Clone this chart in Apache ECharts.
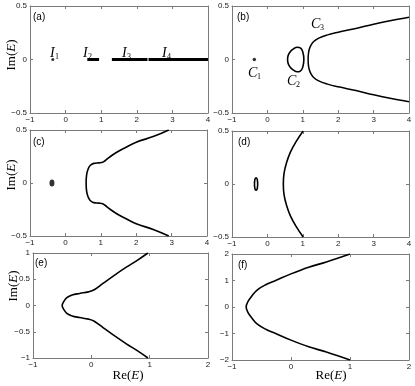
<!DOCTYPE html>
<html>
<head>
<meta charset="utf-8">
<script src="https://cdn.jsdelivr.net/npm/echarts@6/dist/echarts.min.js"></script>
<style>
  html, body { margin: 0; padding: 0; background: #fff; }
  #chart { width: 415px; height: 386px; }
</style>
</head>
<body>
<div id="chart"></div>
<script>
// (a) isolated spectrum on the real axis
const I1 = [[-0.36, 0]];
const I2 = [[0.61, 0], [0.94, 0]];
const I3 = [[1.30, 0], [2.30, 0]];
const I4 = [[2.33, 0], [4.0, 0]];

// (b) loops C1, C2, C3
const C1 = [[-0.37, 0]];
const C2 = [[1.03, 0], [1.0, 0.07], [0.93, 0.108], [0.84, 0.115], [0.74, 0.1], [0.64, 0.07], [0.58, 0.03], [0.57, 0],
  [0.58, -0.03], [0.64, -0.07], [0.74, -0.1], [0.84, -0.115], [0.93, -0.108], [1.0, -0.07], [1.03, 0]];
const C3 = [[4.0, -0.395], [3.5, -0.365], [3.0, -0.33], [2.5, -0.29], [2.0, -0.255], [1.7, -0.23], [1.45, -0.2],
  [1.3, -0.165], [1.21, -0.12], [1.165, -0.07], [1.15, 0], [1.165, 0.07], [1.21, 0.12], [1.3, 0.165], [1.45, 0.2],
  [1.7, 0.23], [2.0, 0.255], [2.5, 0.29], [3.0, 0.33], [3.5, 0.365], [4.0, 0.395]];

// (c)
const dotC = [[-0.38, 0]];
const curveC = [[2.92, -0.5], [2.5, -0.44], [2.0, -0.385], [1.7, -0.335], [1.45, -0.29], [1.25, -0.245], [1.12, -0.21],
  [1.05, -0.195], [0.95, -0.19], [0.8, -0.185], [0.7, -0.165], [0.64, -0.13], [0.6, -0.08], [0.585, 0],
  [0.6, 0.08], [0.64, 0.13], [0.7, 0.165], [0.8, 0.185], [0.95, 0.19], [1.05, 0.195], [1.12, 0.21], [1.25, 0.245],
  [1.45, 0.29], [1.7, 0.335], [2.0, 0.385], [2.5, 0.44], [2.92, 0.5]];

// (d)
const loopD = [[-0.275, 0], [-0.285, 0.04], [-0.32, 0.058], [-0.355, 0.04], [-0.365, 0], [-0.355, -0.04],
  [-0.32, -0.058], [-0.285, -0.04], [-0.275, 0]];
const curveD = [[1.01, -0.5], [0.81, -0.4], [0.65, -0.3], [0.54, -0.2], [0.47, -0.1], [0.45, 0],
  [0.47, 0.1], [0.54, 0.2], [0.65, 0.3], [0.81, 0.4], [1.01, 0.5]];

// (e)
const curveE = [[0.97, -1.0], [0.8, -0.87], [0.6, -0.73], [0.4, -0.58], [0.2, -0.42], [0.05, -0.3], [-0.05, -0.26],
  [-0.2, -0.23], [-0.33, -0.2], [-0.42, -0.15], [-0.47, -0.08], [-0.5, 0], [-0.47, 0.08], [-0.42, 0.15],
  [-0.33, 0.2], [-0.2, 0.23], [-0.05, 0.26], [0.05, 0.3], [0.2, 0.42], [0.4, 0.58], [0.6, 0.73], [0.8, 0.87], [0.97, 1.0]];

// (f)
const curveF = [[1.0, -2.0], [0.6, -1.7], [0.3, -1.5], [0.0, -1.25], [-0.26, -1.0], [-0.42, -0.85], [-0.57, -0.65],
  [-0.67, -0.4], [-0.73, -0.2], [-0.76, 0], [-0.73, 0.2], [-0.67, 0.4], [-0.57, 0.65], [-0.42, 0.85],
  [-0.26, 1.0], [0.0, 1.25], [0.3, 1.5], [0.6, 1.7], [1.0, 2.0]];

// axis ranges per panel: [xmin, xmax, xstep, ymin, ymax, ystep]
const ranges = [
  [-1, 4, 1, -0.5, 0.5, 0.5],
  [-1, 4, 1, -0.5, 0.5, 0.5],
  [-1, 4, 1, -0.5, 0.5, 0.5],
  [-1, 4, 1, -0.5, 0.5, 0.5],
  [-1, 2, 1, -1, 1, 0.5],
  [-1, 2, 1, -2, 2, 1]
];
const panelNames = ['(a)', '(b)', '(c)', '(d)', '(e)', '(f)'];

const myChart = echarts.init(document.getElementById('chart'));

const grids = [
  { left: 30, top: 6, width: 178, height: 107 },
  { left: 232, top: 6, width: 177, height: 107 },
  { left: 30, top: 130, width: 177, height: 106 },
  { left: 232, top: 131, width: 177, height: 106 },
  { left: 33, top: 253, width: 175, height: 105 },
  { left: 232, top: 254, width: 177, height: 106 }
];

const frame = '#7a7a7a';
const minus = v => String(v).replace('-', '\u2212');

const xAxes = [], yAxes = [];
ranges.forEach((r, i) => {
  ['bottom', 'top'].forEach(pos => {
    xAxes.push({
      gridIndex: i, type: 'value', position: pos, min: r[0], max: r[1], interval: r[2],
      axisLine: { onZero: false, lineStyle: { color: frame, width: 1 } },
      axisTick: { inside: true, length: 3, lineStyle: { color: frame } },
      axisLabel: pos === 'bottom'
        ? { show: true, fontSize: 8, color: '#222', fontFamily: 'Liberation Sans', margin: 3, formatter: minus }
        : { show: false },
      splitLine: { show: false }
    });
  });
  ['left', 'right'].forEach(pos => {
    yAxes.push({
      gridIndex: i, type: 'value', position: pos, min: r[3], max: r[4], interval: r[5],
      axisLine: { onZero: false, lineStyle: { color: frame, width: 1 } },
      axisTick: { inside: true, length: 3, lineStyle: { color: frame } },
      axisLabel: pos === 'left'
        ? { show: true, fontSize: 8, color: '#222', fontFamily: 'Liberation Sans', margin: 3, formatter: minus }
        : { show: false },
      splitLine: { show: false }
    });
  });
});

function line(gi, data, width, smooth) {
  return {
    type: 'line', xAxisIndex: gi * 2, yAxisIndex: gi * 2, data: data,
    showSymbol: false, smooth: smooth, silent: true,
    lineStyle: { color: '#000', width: width }
  };
}
function dot(gi, data, size) {
  return {
    type: 'scatter', xAxisIndex: gi * 2, yAxisIndex: gi * 2, data: data,
    symbol: 'circle', symbolSize: size, silent: true,
    itemStyle: { color: '#000' }
  };
}

const series = [
  dot(0, I1, 3),
  line(0, I2, 3, false),
  line(0, I3, 3, false),
  line(0, I4, 3, false),
  dot(1, C1, 3.5),
  line(1, C2, 1.6, 0.5),
  line(1, C3, 1.5, 0.4),
  dot(2, dotC, [5, 7]),
  line(2, curveC, 1.6, 0.4),
  line(3, loopD, 1.6, 0.5),
  line(3, curveD, 1.6, 0.4),
  line(4, curveE, 1.6, 0.4),
  line(5, curveF, 1.6, 0.4)
];

const serif = 'Liberation Serif';
const richName = {
  n: { fontFamily: serif, fontSize: 13, color: '#000' },
  i: { fontFamily: serif, fontSize: 13, fontStyle: 'italic', color: '#000' }
};

const graphic = [];
// panel letters
const letterPos = [[33, 12], [237, 12], [33, 137], [238, 137], [35, 258], [238, 260]];
panelNames.forEach((t, i) => {
  graphic.push({
    type: 'text', left: letterPos[i][0], top: letterPos[i][1],
    style: { text: t, font: '10px "Liberation Sans"', fill: '#000' }
  });
});
// axis titles
[[12, 55], [12, 175], [14, 286]].forEach(p => {
  graphic.push({
    type: 'text', x: p[0], y: p[1], rotation: Math.PI / 2,
    style: { text: '{n|Im(}{i|E}{n|)}', rich: richName, align: 'center', verticalAlign: 'middle' }
  });
});
[[128, 376], [331, 376]].forEach(p => {
  graphic.push({
    type: 'text', x: p[0], y: p[1],
    style: { text: '{n|Re(}{i|E}{n|)}', rich: richName, align: 'center', verticalAlign: 'middle' }
  });
});
// curve labels with subscripts: [main, sub, x, y, subOffset]
const tags = [
  ['I', '1', 50, 46, 5], ['I', '2', 83, 46, 5], ['I', '3', 122, 46, 5], ['I', '4', 162, 46, 5],
  ['C', '1', 248, 66, 9], ['C', '2', 287, 74, 9], ['C', '3', 311, 17, 9]
];
tags.forEach(t => {
  graphic.push({
    type: 'text', x: t[2], y: t[3],
    style: { text: t[0], font: 'italic 14px "Liberation Serif"', fill: '#000' }
  });
  graphic.push({
    type: 'text', x: t[2] + t[4], y: t[3] + 7,
    style: { text: t[1], font: '8px "Liberation Serif"', fill: '#000' }
  });
});

const option = {
  animation: false,
  backgroundColor: '#fff',
  grid: grids,
  xAxis: xAxes,
  yAxis: yAxes,
  series: series,
  graphic: graphic
};
myChart.setOption(option);
</script>
</body>
</html>
